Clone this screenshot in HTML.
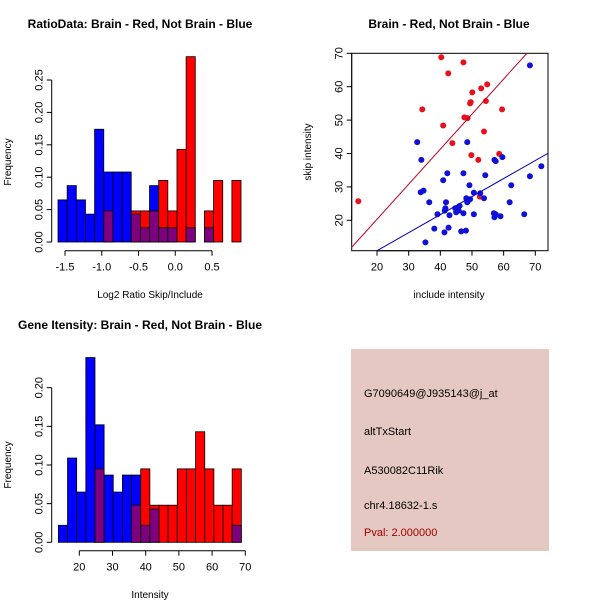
<!DOCTYPE html>
<html><head><meta charset="utf-8"><style>
body{margin:0;background:#fff}
svg{display:block;font-family:"Liberation Sans",sans-serif}
</style></head><body>
<svg id="s" width="600" height="600" viewBox="0 0 600 600">
<rect x="351" y="349" width="198" height="202" fill="#e5c8c1"/>
<g font-size="11" fill="#000">
<text x="364" y="397">G7090649@J935143@j_at</text>
<text x="364" y="435">altTxStart</text>
<text x="364" y="474">A530082C11Rik</text>
<text x="364" y="509">chr4.18632-1.s</text>
<text x="364" y="536" fill="#a00000">Pval: 2.000000</text>
</g>
<text x="140" y="28" font-size="12" font-weight="bold" text-anchor="middle">RatioData: Brain - Red, Not Brain - Blue</text>
<text x="449" y="28" font-size="12" font-weight="bold" text-anchor="middle">Brain - Red, Not Brain - Blue</text>
<text x="140" y="329" font-size="12" font-weight="bold" text-anchor="middle">Gene Itensity: Brain - Red, Not Brain - Blue</text>
<text x="150" y="298" font-size="10" text-anchor="middle">Log2 Ratio Skip/Include</text>
<text x="150" y="598" font-size="10" text-anchor="middle">Intensity</text>
<text x="449" y="298" font-size="10" text-anchor="middle">include intensity</text>
<text transform="translate(11,162) rotate(-90)" font-size="10" text-anchor="middle">Frequency</text>
<text transform="translate(11,465) rotate(-90)" font-size="10" text-anchor="middle">Frequency</text>
<text transform="translate(311,152) rotate(-90)" font-size="10" text-anchor="middle">skip intensity</text>
</svg>
<script>
// Ratio histogram data (20 bins)
const ratioBinStart = -1.595;
const ratioBinWidth = 0.1245;
const ratioBlue = [0.065,0.087,0.065,0.043,0.174,0.108,0.108,0.108,0.043,0.022,0.087,0.022,0.022,0,0.022,0,0.022,0,0,0];
const ratioRed  = [0,0,0,0,0,0.048,0,0,0.048,0.048,0.048,0.095,0.048,0.143,0.286,0,0.048,0.095,0,0.095];
const ratioXTicks = [-1.5,-1.0,-0.5,0.0,0.5];
const ratioXLabels = ["-1.5","-1.0","-0.5","0.0","0.5"];
const ratioYTicks = [0,0.05,0.10,0.15,0.20,0.25];
const ratioYLabels = ["0.00","0.05","0.10","0.15","0.20","0.25"];
// Intensity histogram data
const intBinStart = 13.7;
const intBinWidth = 2.755;
const intBlue = [0.022,0.109,0.065,0.239,0.152,0.087,0.065,0.087,0.087,0.022,0.043,0,0,0,0,0,0,0,0,0.022];
const intRed  = [0,0,0,0,0.095,0,0,0,0.048,0.095,0.048,0.048,0.048,0.095,0.095,0.143,0.095,0.048,0.048,0.095];
const intXTicks = [20,30,40,50,60,70];
const intYTicks = [0,0.05,0.10,0.15,0.20];
const intYLabels = ["0.00","0.05","0.10","0.15","0.20"];
// Scatter data
const redX = [14.1,40.3,47.3,42.5,34.3,40.9,43.8,47.6,48.6,50.1,49.4,49.6,52.9,54.8,54.4,59.5,53.8,49.8,52.0,58.6,52.5];
const redY = [25.7,68.8,67.3,64.0,53.2,48.4,43.1,50.8,50.6,58.3,55.0,55.4,59.5,60.7,55.7,53.2,46.6,39.5,38.1,39.9,27.1];
const blueX = [32.7,34.0,33.8,34.7,35.3,36.5,39.1,38.1,40.9,42.2,41.8,41.4,41.6,41.3,42.6,42.9,44.7,45.0,45.5,46.1,45.8,46.6,47.3,47.3,48.1,48.5,48.2,48.5,49.1,49.4,49.2,50.6,50.6,52.6,53.8,54.2,56.9,57.1,57.5,57.1,57.5,59.0,59.6,61.9,62.4,66.5,68.3,68.3,71.9];
const blueY = [43.4,38.1,28.4,28.9,13.4,25.4,21.8,17.5,32.0,34.1,25.4,22.9,23.6,16.4,17.8,21.5,23.6,22.4,23.6,24.3,22.9,16.7,22.1,34.1,16.9,43.4,26.6,25.4,26.1,26.3,30.5,28.3,21.8,28.1,26.6,33.5,22.1,20.9,21.8,38.1,37.7,21.2,38.9,25.4,30.5,21.8,33.2,66.4,36.2];
const redFit = [-0.7,1.05];
const blueFit = [0.1,0.54];
const scXTicks = [20,30,40,50,60,70];
const scYTicks = [20,30,40,50,60,70];

const NS="http://www.w3.org/2000/svg";
const svg=document.getElementById('s');
function mk(tag,attrs){const e=document.createElementNS(NS,tag);for(const k in attrs)e.setAttribute(k,attrs[k]);svg.appendChild(e);return e;}

function hist(prefix,start,w,blue,red,sx,sy){
  for(let i=0;i<blue.length;i++){
    const x0=sx(start+i*w),x1=sx(start+(i+1)*w);
    const b=blue[i],r=red[i],lo=Math.min(b,r),hi=Math.max(b,r);
    if(hi<=0)continue;
    const topCol=b>=r?'#0000ff':'#ff0000';
    let e=mk('rect',{x:x0,y:sy(hi),width:x1-x0,height:sy(0)-sy(hi),fill:topCol,stroke:'#000','stroke-width':0.8});
    
    
    if(lo>0){
      e=mk('rect',{x:x0,y:sy(lo),width:x1-x0,height:sy(0)-sy(lo),fill:'#7f007f',stroke:'#000','stroke-width':0.8});
      
      
    }
  }
}
function xaxis(prefix,ticks,labels,sx,y){
  let e=mk('line',{x1:sx(ticks[0]),x2:sx(ticks[ticks.length-1]),y1:y,y2:y,stroke:'#000'});
  
  
  ticks.forEach((t,i)=>{
    mk('line',{x1:sx(t),x2:sx(t),y1:y,y2:y+5,stroke:'#000'});
    const tx=mk('text',{x:sx(t),y:y+20,'font-size':11,'text-anchor':'middle'});
    tx.textContent=labels[i];
    
    
  });
}
function yaxis(prefix,ticks,labels,sy,x){
  let e=mk('line',{x1:x,x2:x,y1:sy(ticks[0]),y2:sy(ticks[ticks.length-1]),stroke:'#000'});
  
  
  ticks.forEach((t,i)=>{
    mk('line',{x1:x-5,x2:x,y1:sy(t),y2:sy(t),stroke:'#000'});
    const tx=mk('text',{transform:`translate(${x-9},${sy(t)}) rotate(-90)`,'font-size':11,'text-anchor':'middle'});
    tx.textContent=labels[i];
    
    
  });
}
const rx=v=>65+(v+1.5)*73.5, ry=v=>242-v*(162/0.25);
hist('ratio',ratioBinStart,ratioBinWidth,ratioBlue,ratioRed,rx,ry);
xaxis('ratio',ratioXTicks,ratioXLabels,rx,250.7);
yaxis('ratio',ratioYTicks,ratioYLabels,ry,51.7);
const ix=v=>79.3+(v-20)*3.32, iy=v=>542.3-v*(154.6/0.2);
hist('intensity',intBinStart,intBinWidth,intBlue,intRed,ix,iy);
xaxis('intensity',intXTicks,intXTicks.map(String),ix,550.7);
yaxis('intensity',intYTicks,intYLabels,iy,51.7);
const px=v=>377+(v-20)*3.166, py=v=>220.3-(v-20)*3.34;
let box=mk('rect',{x:351.7,y:53.3,width:196.3,height:197.4,fill:'none',stroke:'#000'});


xaxis('scatter',scXTicks,scXTicks.map(String),px,250.7);
yaxis('scatter',scYTicks,scYTicks.map(String),py,351.7);
const defs=mk('defs',{});
const cp=document.createElementNS(NS,'clipPath');cp.setAttribute('id','cp');defs.appendChild(cp);
const cr=document.createElementNS(NS,'rect');cr.setAttribute('x',351.7);cr.setAttribute('y',53.3);cr.setAttribute('width',196.3);cr.setAttribute('height',197.4);cp.appendChild(cr);
function fit(f,col,name){
  const xa=5,xb=80;
  const l=mk('line',{x1:px(xa),y1:py(f[0]+f[1]*xa),x2:px(xb),y2:py(f[0]+f[1]*xb),stroke:col,'stroke-width':1,'clip-path':'url(#cp)'});
  
  
}
function pts(X,Y,col,name){
  X.forEach((x,i)=>{
    const c=mk('circle',{cx:px(x),cy:py(Y[i]),r:3,fill:col});
    
    
  });
}
pts(redX,redY,'#e8101c','brain-point');
pts(blueX,blueY,'#1010d8','not-brain-point');
fit(redFit,'#c00020','brain-fit-line');
fit(blueFit,'#0000c0','not-brain-fit-line');
</script>
</body></html>
